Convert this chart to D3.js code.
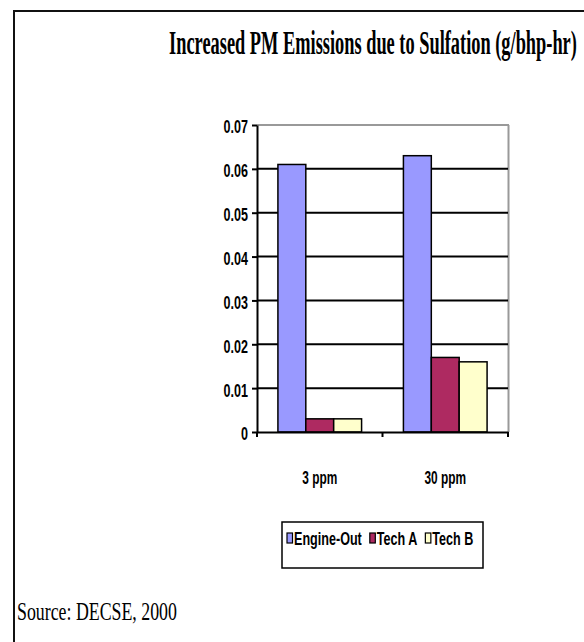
<!DOCTYPE html>
<html>
<head>
<meta charset="utf-8">
<script src="https://cdn.jsdelivr.net/npm/d3@7"></script>
<style>
  html, body { margin: 0; padding: 0; background: #fff; }
  svg { display: block; }
</style>
</head>
<body>
<svg id="chart" width="584" height="642"></svg>
<script>
// Data
const categories = ["3 ppm", "30 ppm"];
const seriesNames = ["Engine-Out", "Tech A", "Tech B"];
const engineOut = [0.061, 0.063];
const techA = [0.003, 0.017];
const techB = [0.003, 0.016];
const yTicks = [0, 0.01, 0.02, 0.03, 0.04, 0.05, 0.06, 0.07];
const yTickLabels = ["0", "0.01", "0.02", "0.03", "0.04", "0.05", "0.06", "0.07"];
const seriesColors = ["#9999FF", "#AE2A61", "#FFFFCC"];

const titleText = "Increased PM Emissions due to Sulfation (g/bhp-hr)";
const sourceText = "Source: DECSE, 2000";

const seriesValues = [engineOut, techA, techB];
const rows = categories.map((c, i) => ({
  cat: c,
  vals: seriesNames.map((s, j) => ({ series: s, idx: j, value: seriesValues[j][i] }))
}));

const svg = d3.select("#chart");
const sans = "'Liberation Sans', Arial, sans-serif";
const serif = "'Liberation Serif', 'Times New Roman', serif";

// Place a horizontally squeezed text at (x, y); sx is the squeeze factor.
function narrowText(parent, x, y, sx, str, attrs) {
  const t = parent.append("text")
    .attr("transform", `translate(${x},${y}) scale(${sx},1)`)
    .text(str);
  Object.entries(attrs).forEach(([k, v]) => t.attr(k, v));
  return t;
}

// Outer frame (left and top edges)
svg.append("line").attr("x1", 14).attr("y1", 11).attr("x2", 584).attr("y2", 11)
  .attr("stroke", "#111").attr("stroke-width", 2);
svg.append("line").attr("x1", 14).attr("y1", 10).attr("x2", 14).attr("y2", 642)
  .attr("stroke", "#111").attr("stroke-width", 2);

// Title, squeezed to the width of the frame's right part
const title = narrowText(svg, 373, 54, 1, titleText, {
  "text-anchor": "middle", "font-family": serif, "font-weight": "bold", "font-size": 34
});
{
  const w = title.node().getComputedTextLength();
  title.attr("transform", `translate(373,54) scale(${408 / w},1)`);
}

// Source note
const src = narrowText(svg, 17, 620, 1, sourceText, {
  "font-family": serif, "font-size": 26
});
{
  const w = src.node().getComputedTextLength();
  src.attr("transform", `translate(17,620) scale(${160 / w},1)`);
}

// Plot area
const plot = { left: 257, right: 508, top: 125, bottom: 432 };

const y = d3.scaleLinear().domain([0, 0.07]).range([plot.bottom, plot.top]);
const x0 = d3.scaleBand().domain(categories).range([plot.left, plot.right]).padding(0);
const barW = x0.bandwidth() / 4.5;
const x1 = d3.scaleBand().domain(seriesNames)
  .range([barW * 0.75, x0.bandwidth() - barW * 0.75]).padding(0);

// Plot area border (light gray, top and right)
svg.append("line").attr("x1", plot.left).attr("x2", plot.right + 1)
  .attr("y1", plot.top).attr("y2", plot.top)
  .attr("stroke", "#999").attr("stroke-width", 2);
svg.append("line").attr("x1", plot.right + 0.5).attr("x2", plot.right + 0.5)
  .attr("y1", plot.top).attr("y2", plot.bottom)
  .attr("stroke", "#999").attr("stroke-width", 2);

// Gridlines
svg.append("g")
  .selectAll("line")
  .data(yTicks.filter(t => t > 0 && t < 0.07))
  .join("line")
  .attr("x1", plot.left).attr("x2", plot.right)
  .attr("y1", d => y(d)).attr("y2", d => y(d))
  .attr("stroke", "#000").attr("stroke-width", 2);

// Bars
const groups = svg.append("g")
  .selectAll("g")
  .data(rows)
  .join("g")
  .attr("transform", d => `translate(${x0(d.cat)},0)`);

groups.selectAll("rect")
  .data(d => d.vals)
  .join("rect")
  .attr("x", d => x1(d.series))
  .attr("width", x1.bandwidth())
  .attr("y", d => y(d.value))
  .attr("height", d => y(0) - y(d.value))
  .attr("fill", d => seriesColors[d.idx])
  .attr("stroke", "#000")
  .attr("stroke-width", 1.5);

// Y axis
const ySqueeze = 0.66;
const yAxis = d3.axisLeft(y)
  .tickValues(yTicks)
  .tickFormat((d, i) => yTickLabels[i])
  .tickSizeInner(5).tickSizeOuter(0).tickPadding(9);
const gy = svg.append("g")
  .attr("transform", `translate(${plot.left},0)`)
  .call(yAxis);
gy.select(".domain").attr("stroke", "#000").attr("stroke-width", 2);
gy.selectAll(".tick line").attr("stroke", "#000").attr("stroke-width", 2);
gy.selectAll(".tick text")
  .attr("font-family", sans).attr("font-weight", "bold").attr("font-size", 19)
  .attr("fill", "#000").attr("dy", "0.42em")
  .attr("x", -9 / ySqueeze)
  .attr("transform", `scale(${ySqueeze},1)`);

// X axis
const xSqueeze = 0.66;
const xAxis = d3.axisBottom(x0).tickSize(0).tickPadding(0);
const gx = svg.append("g")
  .attr("transform", `translate(0,${plot.bottom})`)
  .call(xAxis);
gx.select(".domain").attr("stroke", "#000").attr("stroke-width", 2);
gx.selectAll(".tick text")
  .attr("y", 52).attr("dy", 0)
  .attr("font-family", sans).attr("font-weight", "bold").attr("font-size", 18)
  .attr("fill", "#000")
  .attr("transform", `scale(${xSqueeze},1)`);
// category separator ticks
const sepPositions = [plot.left, plot.left + x0.bandwidth(), plot.right];
gx.append("g").selectAll("line")
  .data(sepPositions)
  .join("line")
  .attr("x1", d => d).attr("x2", d => d)
  .attr("y1", 0).attr("y2", 5)
  .attr("stroke", "#000").attr("stroke-width", 2);

// Legend
const legend = svg.append("g");
legend.append("rect")
  .attr("x", 282).attr("y", 522).attr("width", 201).attr("height", 46)
  .attr("fill", "#fff").attr("stroke", "#000").attr("stroke-width", 1.5);

const legSqueeze = 0.7;
let lx = 287;
seriesNames.forEach((name, i) => {
  legend.append("rect")
    .attr("x", lx).attr("y", 533).attr("width", 5.5).attr("height", 10)
    .attr("fill", seriesColors[i]).attr("stroke", "#000").attr("stroke-width", 1.2);
  const t = narrowText(legend, lx + 7, 545, legSqueeze, name, {
    "font-family": sans, "font-weight": "bold", "font-size": 18, "fill": "#000"
  });
  lx += 7 + t.node().getComputedTextLength() * legSqueeze + 8;
});
</script>
</body>
</html>
